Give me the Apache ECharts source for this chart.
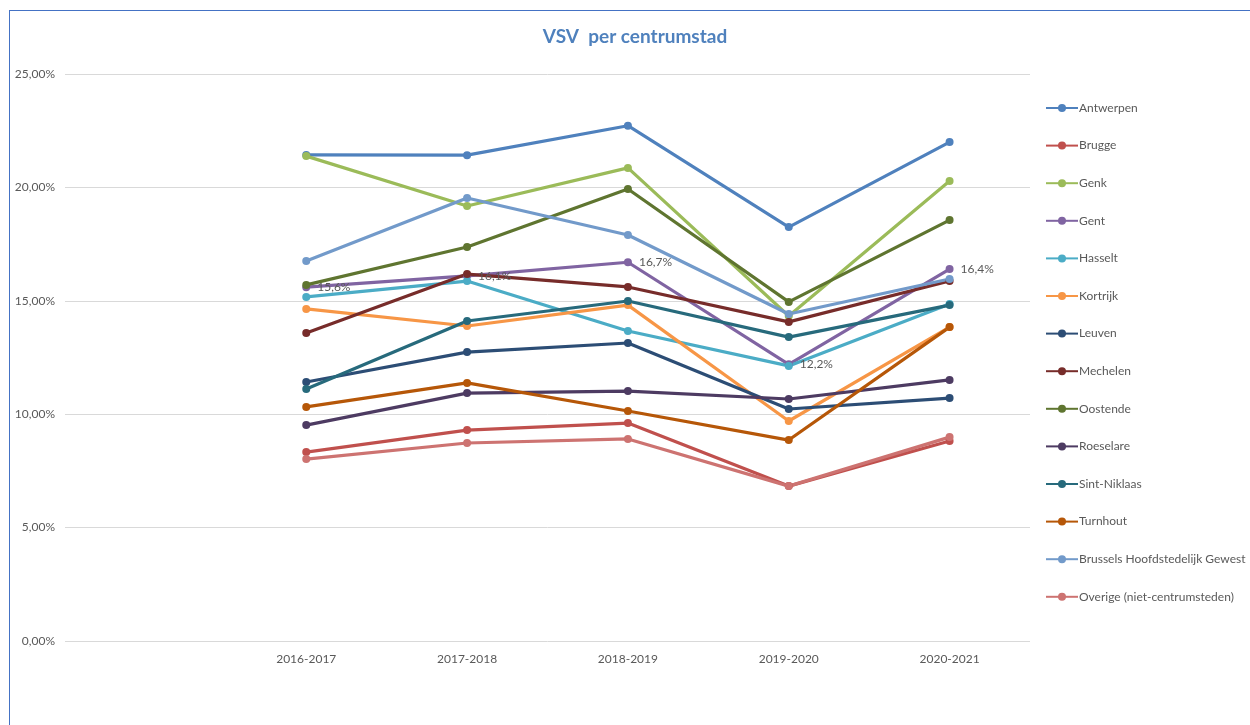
<!DOCTYPE html>
<html>
<head>
<meta charset="utf-8">
<script src="https://cdn.jsdelivr.net/npm/echarts@6/dist/echarts.min.js"></script>
<style>
  html, body { margin: 0; padding: 0; background: #fff; }
  #frame { position: absolute; left: 9px; top: 10px; width: 1260px; height: 740px; border: 1px solid #4472C4; box-sizing: border-box; }
  #chart { position: absolute; left: 0; top: 0; width: 1250px; height: 725px; }
</style>
</head>
<body>
<div id="frame"></div>
<div id="chart"></div>
<script>
// School years (first slot left empty, as in the source workbook)
const years = ['', '2016-2017', '2017-2018', '2018-2019', '2019-2020', '2020-2021'];

// Early school leaving (VSV) per centre city, in %
const antwerpen   = [null, 21.43, 21.42, 22.72, 18.25, 22.00];
const brugge      = [null, 8.33, 9.30, 9.61, 6.83, 8.82];
const genk        = [null, 21.38, 19.18, 20.86, 14.33, 20.28];
const gent        = [null, 15.6, 16.1, 16.7, 12.2, 16.4];
const hasselt     = [null, 15.17, 15.87, 13.67, 12.13, 14.86];
const kortrijk    = [null, 14.64, 13.89, 14.81, 9.70, 13.84];
const leuven      = [null, 11.42, 12.74, 13.14, 10.23, 10.71];
const mechelen    = [null, 13.58, 16.18, 15.61, 14.07, 15.87];
const oostende    = [null, 15.70, 17.37, 19.93, 14.95, 18.56];
const roeselare   = [null, 9.52, 10.93, 11.02, 10.67, 11.51];
const sintNiklaas = [null, 11.11, 14.11, 14.99, 13.40, 14.81];
const turnhout    = [null, 10.32, 11.38, 10.14, 8.86, 13.84];
const brussel     = [null, 16.75, 19.53, 17.90, 14.42, 15.96];
const overige     = [null, 8.02, 8.73, 8.91, 6.83, 8.99];

const seriesDefs = [
  ['Antwerpen', antwerpen, '#4F81BD'],
  ['Brugge', brugge, '#C0504D'],
  ['Genk', genk, '#9BBB59'],
  ['Gent', gent, '#8064A2', true],
  ['Hasselt', hasselt, '#4BACC6'],
  ['Kortrijk', kortrijk, '#F79646'],
  ['Leuven', leuven, '#2C4D75'],
  ['Mechelen', mechelen, '#772C2A'],
  ['Oostende', oostende, '#5F7530'],
  ['Roeselare', roeselare, '#4D3B62'],
  ['Sint-Niklaas', sintNiklaas, '#276A7C'],
  ['Turnhout', turnhout, '#B65708'],
  ['Brussels Hoofdstedelijk Gewest', brussel, '#729ACA'],
  ['Overige (niet-centrumsteden)', overige, '#CD7371']
];

const font = 'Lato, "Open Sans", "Liberation Sans", sans-serif';
const pct = (v, d) => v.toFixed(d).replace('.', ',') + '%';

const chart = echarts.init(document.getElementById('chart'), null, { renderer: 'canvas' });
chart.setOption({
  animation: false,
  textStyle: { fontFamily: font },
  title: {
    text: 'VSV  per centrumstad',
    left: 630, top: 22, textAlign: 'center',
    textStyle: { color: '#4F81BD', fontSize: 19, fontWeight: 'bold', fontFamily: font }
  },
  grid: { left: 65, right: 220, top: 74, bottom: 84, containLabel: false },
  xAxis: {
    type: 'category',
    data: years,
    boundaryGap: true,
    axisLine: { show: false },
    axisTick: { show: false },
    axisLabel: { color: '#595959', fontSize: 12, margin: 12, fontFamily: font }
  },
  yAxis: {
    type: 'value',
    min: 0, max: 25, interval: 5,
    axisLine: { show: false },
    axisTick: { show: false },
    splitLine: { lineStyle: { color: '#D9D9D9', width: 1 } },
    axisLabel: { color: '#595959', fontSize: 12, margin: 10, formatter: v => pct(v, 2), fontFamily: font }
  },
  legend: {
    orient: 'vertical',
    left: 1040, top: 97,
    itemWidth: 32, itemHeight: 10,
    itemGap: 25.6,
    textStyle: { color: '#595959', fontSize: 12, padding: [0, 0, 0, -4], fontFamily: font },
    data: seriesDefs.map(d => d[0])
  },
  series: seriesDefs.map(([name, data, color, labelled]) => ({
    name, type: 'line', data,
    symbol: 'circle', symbolSize: 8,
    color,
    lineStyle: { width: 3.2, color },
    itemStyle: { color },
    connectNulls: false,
    label: labelled ? {
      show: true, position: 'right', distance: 7,
      color: '#595959', fontSize: 12, fontFamily: font,
      formatter: p => pct(p.value, 1)
    } : { show: false },
    emphasis: { disabled: true }
  }))
});
</script>
</body>
</html>
